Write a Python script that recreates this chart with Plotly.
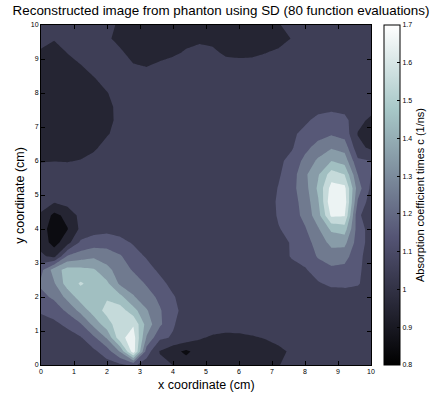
import plotly.graph_objects as go

# Grid node positions (cm)
x_cm = [0.0, 0.4, 0.8, 1.2, 1.6, 2.0, 2.4, 2.8, 3.2, 3.6, 4.0, 4.4, 4.8,
        5.2, 5.6, 6.0, 6.4, 6.8, 7.2, 7.6, 8.0, 8.4, 8.8, 9.2, 9.6, 10.0]
y_cm = [0.0, 0.4, 0.8, 1.2, 1.6, 2.0, 2.4, 2.8, 3.2, 3.6, 4.0, 4.4, 4.8,
        5.2, 5.6, 6.0, 6.4, 6.8, 7.2, 7.6, 8.0, 8.4, 8.8, 9.2, 9.6, 10.0]

# Reconstructed absorption coefficient times c (1/ns), one list per row of constant y
mu_y100 = [1.05, 1.04, 1.05, 1.05, 1.05, 1.05, 0.97, 0.96, 0.95, 0.95, 0.95, 0.95, 0.96,
           0.96, 0.95, 0.95, 0.95, 0.96, 0.99, 1.05, 1.05, 1.05, 1.05, 1.05, 1.05, 1.05]
mu_y096 = [1.03, 1.01, 1.04, 1.05, 1.05, 1.02, 0.96, 0.94, 0.93, 0.94, 0.95, 0.97, 0.98,
           0.97, 0.95, 0.94, 0.94, 0.94, 0.95, 1.005, 1.05, 1.05, 1.05, 1.05, 1.05, 1.05]
mu_y092 = [0.99, 0.95, 1.005, 1.04, 1.05, 1.05, 1.02, 0.95, 0.94, 0.96, 0.98, 1.01, 1.03,
           1.02, 0.98, 0.97, 0.975, 0.995, 1.02, 1.05, 1.05, 1.05, 1.05, 1.05, 1.05, 1.05]
mu_y088 = [0.95, 0.93, 0.95, 0.995, 1.04, 1.05, 1.05, 1.01, 0.995, 1.02, 1.04, 1.05, 1.05,
           1.05, 1.04, 1.04, 1.04, 1.05, 1.05, 1.05, 1.05, 1.05, 1.05, 1.05, 1.05, 1.05]
mu_y084 = [0.94, 0.93, 0.94, 0.96, 0.99, 1.04, 1.05, 1.05, 1.05, 1.05, 1.05, 1.05, 1.05,
           1.05, 1.05, 1.05, 1.05, 1.05, 1.05, 1.05, 1.05, 1.05, 1.05, 1.05, 1.05, 1.05]
mu_y080 = [0.94, 0.93, 0.93, 0.94, 0.97, 0.995, 1.05, 1.05, 1.05, 1.05, 1.05, 1.05, 1.05,
           1.05, 1.05, 1.05, 1.05, 1.05, 1.05, 1.05, 1.05, 1.05, 1.05, 1.05, 1.05, 1.05]
mu_y076 = [0.94, 0.93, 0.93, 0.93, 0.95, 0.965, 1.04, 1.05, 1.05, 1.05, 1.05, 1.05, 1.05,
           1.05, 1.05, 1.05, 1.05, 1.05, 1.05, 1.05, 1.05, 1.06, 1.07, 1.06, 1.05, 1.04]
mu_y072 = [0.95, 0.94, 0.93, 0.93, 0.94, 0.96, 1.04, 1.05, 1.05, 1.05, 1.05, 1.05, 1.05,
           1.05, 1.05, 1.05, 1.05, 1.05, 1.05, 1.06, 1.08, 1.13, 1.15, 1.13, 1.03, 0.98]
mu_y068 = [0.96, 0.95, 0.95, 0.95, 0.96, 0.99, 1.04, 1.05, 1.05, 1.05, 1.05, 1.05, 1.05,
           1.05, 1.05, 1.05, 1.05, 1.05, 1.05, 1.08, 1.13, 1.16, 1.19, 1.16, 0.995, 0.95]
mu_y064 = [0.97, 0.97, 0.97, 0.96, 0.98, 1.04, 1.05, 1.05, 1.05, 1.05, 1.05, 1.05, 1.05,
           1.05, 1.05, 1.05, 1.05, 1.05, 1.06, 1.09, 1.17, 1.24, 1.29, 1.26, 1.03, 0.98]
mu_y060 = [0.995, 0.998, 0.995, 1.005, 1.04, 1.05, 1.05, 1.05, 1.05, 1.05, 1.05, 1.05, 1.05,
           1.05, 1.05, 1.05, 1.05, 1.05, 1.08, 1.13, 1.23, 1.32, 1.40, 1.36, 1.12, 1.10]
mu_y056 = [1.04, 1.05, 1.05, 1.05, 1.05, 1.05, 1.05, 1.05, 1.05, 1.05, 1.05, 1.05, 1.05,
           1.05, 1.05, 1.05, 1.05, 1.05, 1.09, 1.15, 1.28, 1.39, 1.55, 1.50, 1.20, 1.10]
mu_y052 = [1.05, 1.05, 1.05, 1.05, 1.05, 1.05, 1.05, 1.05, 1.05, 1.05, 1.05, 1.05, 1.05,
           1.05, 1.05, 1.05, 1.05, 1.05, 1.105, 1.17, 1.26, 1.42, 1.64, 1.63, 1.25, 1.08]
mu_y048 = [1.03, 1.01, 1.04, 1.05, 1.05, 1.05, 1.05, 1.05, 1.05, 1.05, 1.05, 1.05, 1.05,
           1.05, 1.05, 1.05, 1.05, 1.05, 1.115, 1.16, 1.24, 1.39, 1.68, 1.66, 1.19, 1.05]
mu_y044 = [0.99, 0.87, 0.93, 1.03, 1.05, 1.05, 1.05, 1.05, 1.05, 1.05, 1.05, 1.05, 1.05,
           1.05, 1.05, 1.05, 1.05, 1.05, 1.11, 1.15, 1.23, 1.36, 1.62, 1.61, 1.12, 1.04]
mu_y040 = [0.95, 0.84, 0.895, 1.02, 1.06, 1.07, 1.06, 1.05, 1.05, 1.05, 1.05, 1.05, 1.05,
           1.05, 1.05, 1.05, 1.05, 1.05, 1.095, 1.13, 1.19, 1.29, 1.42, 1.45, 1.15, 1.06]
mu_y036 = [0.96, 0.86, 0.96, 1.12, 1.15, 1.16, 1.13, 1.09, 1.06, 1.05, 1.05, 1.05, 1.05,
           1.05, 1.05, 1.05, 1.05, 1.05, 1.06, 1.11, 1.16, 1.24, 1.33, 1.33, 1.15, 1.06]
mu_y032 = [1.02, 0.97, 1.21, 1.25, 1.28, 1.25, 1.21, 1.14, 1.09, 1.05, 1.05, 1.05, 1.05,
           1.05, 1.05, 1.05, 1.05, 1.05, 1.05, 1.11, 1.14, 1.21, 1.25, 1.24, 1.13, 1.05]
mu_y028 = [1.17, 1.35, 1.44, 1.43, 1.41, 1.33, 1.25, 1.19, 1.14, 1.08, 1.05, 1.05, 1.05,
           1.05, 1.05, 1.05, 1.05, 1.05, 1.05, 1.06, 1.09, 1.15, 1.18, 1.17, 1.12, 1.05]
mu_y024 = [1.22, 1.29, 1.45, 1.51, 1.47, 1.42, 1.28, 1.25, 1.19, 1.13, 1.07, 1.05, 1.05,
           1.05, 1.05, 1.05, 1.05, 1.05, 1.05, 1.05, 1.06, 1.09, 1.12, 1.12, 1.11, 1.05]
mu_y020 = [1.17, 1.22, 1.33, 1.45, 1.47, 1.49, 1.43, 1.31, 1.24, 1.18, 1.11, 1.05, 1.04,
           1.05, 1.05, 1.05, 1.05, 1.05, 1.05, 1.05, 1.05, 1.05, 1.05, 1.06, 1.05, 1.04]
mu_y016 = [1.11, 1.14, 1.22, 1.33, 1.45, 1.53, 1.55, 1.44, 1.31, 1.21, 1.13, 1.06, 1.05,
           1.05, 1.05, 1.05, 1.05, 1.05, 1.05, 1.05, 1.05, 1.05, 1.05, 1.05, 1.05, 1.05]
mu_y012 = [1.07, 1.08, 1.12, 1.19, 1.33, 1.46, 1.56, 1.59, 1.36, 1.22, 1.11, 1.05, 1.05,
           1.05, 1.05, 1.05, 1.05, 1.05, 1.05, 1.05, 1.05, 1.05, 1.05, 1.05, 1.05, 1.05]
mu_y008 = [1.05, 1.05, 1.06, 1.09, 1.18, 1.31, 1.57, 1.65, 1.29, 1.12, 1.09, 1.06, 1.01,
           0.985, 0.97, 0.975, 0.99, 1.005, 1.04, 1.05, 1.05, 1.05, 1.05, 1.05, 1.05, 1.05]
mu_y004 = [1.04, 1.04, 1.04, 1.05, 1.08, 1.15, 1.31, 1.66, 1.15, 0.995, 0.93, 0.88, 0.94,
           0.93, 0.93, 0.93, 0.94, 0.96, 0.97, 1.02, 1.05, 1.05, 1.05, 1.05, 1.05, 1.05]
mu_y000 = [1.04, 1.04, 1.04, 1.04, 1.05, 1.06, 1.08, 1.12, 1.05, 1.02, 0.999, 0.95, 0.95,
           0.95, 0.95, 0.95, 0.96, 0.97, 0.995, 1.04, 1.05, 1.05, 1.05, 1.05, 1.05, 1.05]

absorption = [mu_y000, mu_y004, mu_y008, mu_y012, mu_y016, mu_y020, mu_y024, mu_y028,
              mu_y032, mu_y036, mu_y040, mu_y044, mu_y048, mu_y052, mu_y056, mu_y060,
              mu_y064, mu_y068, mu_y072, mu_y076, mu_y080, mu_y084, mu_y088, mu_y092,
              mu_y096, mu_y100]

# Contour levels and colour bar range / tick labels
level_start, level_end, level_step = 0.9, 1.6, 0.1
cbar_min, cbar_max = 0.8, 1.7
cbar_ticks = [0.8, 0.9, 1.0, 1.1, 1.2, 1.3, 1.4, 1.5, 1.6, 1.7]
cbar_labels = ["0.8", "0.9", "1", "1.1", "1.2", "1.3", "1.4", "1.5", "1.6", "1.7"]
axis_ticks = [0, 1, 2, 3, 4, 5, 6, 7, 8, 9, 10]


def bone_rgb(u):
    """MATLAB 'bone' colormap: (7*gray + fliplr(hot)) / 8."""
    u = min(max(u, 0.0), 1.0)
    hot_r = min(1.0, u / 0.375)
    hot_g = min(1.0, max(0.0, (u - 0.375) / 0.375))
    hot_b = min(1.0, max(0.0, (u - 0.75) / 0.25))
    r = (7 * u + hot_b) / 8
    g = (7 * u + hot_g) / 8
    b = (7 * u + hot_r) / 8
    return "rgb(%d,%d,%d)" % (round(255 * r), round(255 * g), round(255 * b))


# Continuous scale for the colour bar
bone_bar = [[u, bone_rgb(u)] for u in (0.0, 0.375, 0.75, 1.0)]

# Each filled band takes the colour of its mid value within [cbar_min, cbar_max]
n_bands = int(round((level_end - level_start) / level_step)) + 2
band_scale = []
for k in range(n_bands):
    mid = level_start - level_step / 2 + k * level_step
    band_scale.append([k / (n_bands - 1), bone_rgb((mid - cbar_min) / (cbar_max - cbar_min))])

FONT = "Liberation Sans, Arial, Helvetica, sans-serif"

fig = go.Figure()

fig.add_trace(go.Contour(
    x=x_cm, y=y_cm, z=absorption,
    colorscale=band_scale,
    autocontour=False,
    contours=dict(start=level_start, end=level_end, size=level_step,
                  coloring="fill", showlines=False),
    line=dict(width=0, smoothing=0),
    showscale=False,
    hoverinfo="skip",
))

# Continuous colour bar for the full colour range
fig.add_trace(go.Scatter(
    x=[None], y=[None], mode="markers", showlegend=False, hoverinfo="skip",
    marker=dict(
        color=[cbar_min], colorscale=bone_bar, cmin=cbar_min, cmax=cbar_max, showscale=True,
        colorbar=dict(
            x=1.038, xanchor="left", xpad=0,
            y=0.5, yanchor="middle", ypad=0,
            len=1, lenmode="fraction",
            thickness=16, thicknessmode="pixels",
            outlinewidth=1, outlinecolor="black",
            tickmode="array", tickvals=cbar_ticks, ticktext=cbar_labels,
            ticks="inside", ticklen=3, tickcolor="black",
            tickfont=dict(family=FONT, size=7, color="black"),
            title=dict(text="Absorption coefficient times c (1/ns)", side="right",
                       font=dict(family=FONT, size=11, color="black")),
        ),
    ),
))

axis_style = dict(
    range=[0, 10], tickmode="array", tickvals=axis_ticks,
    ticks="inside", ticklen=4, tickcolor="black", tickwidth=1,
    showline=True, linecolor="black", linewidth=1, mirror="allticks",
    showgrid=False, zeroline=False,
    tickfont=dict(family=FONT, size=7, color="black"),
)

fig.update_layout(
    width=438, height=395,
    margin=dict(l=41, r=57, t=25, b=30),
    paper_bgcolor="white", plot_bgcolor="white",
    title=dict(text="Reconstructed image from phanton using SD (80 function evaluations)",
               x=221 / 438, xref="container", xanchor="center",
               y=1 - 10 / 395, yref="container", yanchor="middle",
               font=dict(family=FONT, size=13.4, color="black")),
    xaxis=axis_style,
    yaxis=axis_style,
    annotations=[
        dict(text="x coordinate (cm)", xref="paper", yref="paper",
             x=0.5, y=-(385 - 365) / 340, xanchor="center", yanchor="middle",
             showarrow=False, font=dict(family=FONT, size=12.5, color="black")),
        dict(text="y coordinate (cm)", xref="paper", yref="paper",
             x=-(41 - 19) / 340, y=0.5, xanchor="center", yanchor="middle",
             textangle=-90, showarrow=False,
             font=dict(family=FONT, size=12.5, color="black")),
    ],
)

fig.write_html("out.html")
